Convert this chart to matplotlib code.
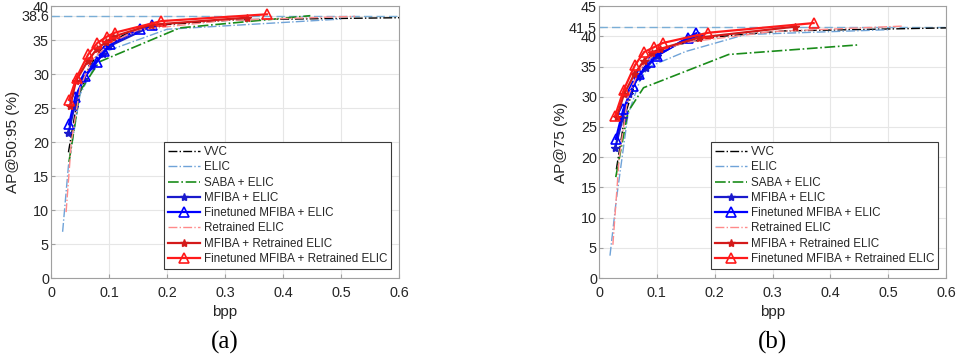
import matplotlib
matplotlib.use("Agg")
import matplotlib.pyplot as plt

plt.rcParams['font.family'] = ['Liberation Sans', 'DejaVu Sans']

# ---------------- data: panel (a) AP@50:95 ----------------
a_vvc_bpp = [0.030, 0.045, 0.065, 0.09, 0.13, 0.20, 0.32, 0.60, 0.75]
a_vvc_ap = [18.5, 26.0, 31.0, 34.0, 36.0, 37.3, 38.0, 38.3, 38.4]
a_elic_bpp = [0.020, 0.030, 0.050, 0.080, 0.10, 0.20, 0.50]
a_elic_ap = [6.8, 16.5, 27.0, 32.0, 33.5, 36.6, 38.1]
a_saba_bpp = [0.031, 0.050, 0.083, 0.222, 0.447]
a_saba_ap = [17.1, 27.5, 31.8, 36.8, 38.6]
a_mfiba_bpp = [0.030, 0.040, 0.055, 0.071, 0.090, 0.100, 0.174]
a_mfiba_ap = [21.3, 25.1, 29.3, 31.2, 33.0, 34.1, 37.1]
a_ftmfiba_bpp = [0.031, 0.042, 0.059, 0.079, 0.092, 0.102, 0.153, 0.174]
a_ftmfiba_ap = [22.6, 26.7, 29.7, 31.8, 33.4, 34.4, 36.7, 37.2]
a_relic_bpp = [0.026, 0.035, 0.050, 0.070, 0.100, 0.150, 0.300, 0.524]
a_relic_ap = [9.7, 20.0, 28.0, 32.0, 34.5, 36.5, 37.9, 38.5]
a_mfre_bpp = [0.033, 0.043, 0.063, 0.079, 0.095, 0.107, 0.172, 0.337]
a_mfre_ap = [25.3, 29.0, 31.9, 33.7, 34.75, 35.5, 37.25, 38.3]
a_ftmfre_bpp = [0.031, 0.044, 0.064, 0.080, 0.096, 0.110, 0.190, 0.372]
a_ftmfre_ap = [26.2, 29.5, 32.9, 34.6, 35.5, 36.1, 37.8, 38.8]
a_ref = 38.6

# ---------------- data: panel (b) AP@75 ----------------
b_vvc_bpp = [0.030, 0.045, 0.065, 0.09, 0.13, 0.20, 0.32, 0.60, 0.75]
b_vvc_ap = [18.0, 27.0, 33.0, 36.5, 38.5, 39.9, 40.9, 41.4, 41.5]
b_elic_bpp = [0.019, 0.030, 0.050, 0.070, 0.085, 0.150, 0.253, 0.500]
b_elic_ap = [3.7, 13.0, 27.0, 32.5, 34.9, 37.5, 40.3, 41.1]
b_saba_bpp = [0.029, 0.050, 0.077, 0.224, 0.450]
b_saba_ap = [16.7, 27.5, 31.5, 37.0, 38.6]
b_mfiba_bpp = [0.028, 0.041, 0.052, 0.068, 0.082, 0.100, 0.152, 0.172]
b_mfiba_ap = [21.5, 26.5, 30.4, 33.3, 34.8, 36.8, 39.6, 40.1]
b_ftmfiba_bpp = [0.029, 0.042, 0.059, 0.070, 0.088, 0.100, 0.154, 0.168]
b_ftmfiba_ap = [23.0, 27.9, 31.8, 33.7, 35.7, 36.8, 39.8, 40.5]
b_relic_bpp = [0.024, 0.035, 0.050, 0.070, 0.100, 0.150, 0.300, 0.526]
b_relic_ap = [5.5, 20.0, 30.0, 34.5, 37.5, 39.0, 40.8, 41.7]
b_mfre_bpp = [0.031, 0.043, 0.061, 0.077, 0.091, 0.105, 0.173, 0.338]
b_mfre_ap = [26.7, 30.4, 33.7, 35.9, 37.3, 37.9, 39.8, 41.6]
b_ftmfre_bpp = [0.028, 0.043, 0.062, 0.078, 0.095, 0.110, 0.189, 0.371]
b_ftmfre_ap = [26.9, 31.2, 35.2, 37.4, 38.2, 38.9, 40.6, 42.2]
b_ref = 41.5

labels = ["VVC", "ELIC", "SABA + ELIC", "MFIBA + ELIC", "Finetuned MFIBA + ELIC",
          "Retrained ELIC", "MFIBA + Retrained ELIC", "Finetuned MFIBA + Retrained ELIC"]

a_yticks = [0, 5, 10, 15, 20, 25, 30, 35, 38.6, 40]
a_yticklabels = ["0", "5", "10", "15", "20", "25", "30", "35", "38.6", "40"]
b_yticks = [0, 5, 10, 15, 20, 25, 30, 35, 40, 41.5, 45]
b_yticklabels = ["0", "5", "10", "15", "20", "25", "30", "35", "40", "41.5", "45"]
xticks = [0, 0.1, 0.2, 0.3, 0.4, 0.5, 0.6]
xticklabels = ["0", "0.1", "0.2", "0.3", "0.4", "0.5", "0.6"]

styles = [
    dict(color="black", ls="-.", lw=1.0),
    dict(color="#6fa3d8", ls="-.", lw=1.0),
    dict(color="#1a8c1a", ls="-.", lw=1.2),
    dict(color="#1a1acc", ls="-", lw=1.6, marker="*", ms=6),
    dict(color="#0000ff", ls="-", lw=1.6, marker="^", ms=7, mfc="none", mew=1.2),
    dict(color="#ff8a8a", ls="-.", lw=1.0),
    dict(color="#d41a1a", ls="-", lw=1.6, marker="*", ms=6),
    dict(color="#ff1a1a", ls="-", lw=1.6, marker="^", ms=7, mfc="none", mew=1.2),
]

fig = plt.figure(figsize=(9.59, 3.62), dpi=100)
ax1 = fig.add_axes([0.0532, 0.232, 0.363, 0.751])
ax2 = fig.add_axes([0.6246, 0.232, 0.362, 0.751])

panels = [
    (ax1, [(a_vvc_bpp, a_vvc_ap), (a_elic_bpp, a_elic_ap), (a_saba_bpp, a_saba_ap),
           (a_mfiba_bpp, a_mfiba_ap), (a_ftmfiba_bpp, a_ftmfiba_ap), (a_relic_bpp, a_relic_ap),
           (a_mfre_bpp, a_mfre_ap), (a_ftmfre_bpp, a_ftmfre_ap)],
     a_ref, 40, a_yticks, a_yticklabels, "AP@50:95 (%)", "(a)"),
    (ax2, [(b_vvc_bpp, b_vvc_ap), (b_elic_bpp, b_elic_ap), (b_saba_bpp, b_saba_ap),
           (b_mfiba_bpp, b_mfiba_ap), (b_ftmfiba_bpp, b_ftmfiba_ap), (b_relic_bpp, b_relic_ap),
           (b_mfre_bpp, b_mfre_ap), (b_ftmfre_bpp, b_ftmfre_ap)],
     b_ref, 45, b_yticks, b_yticklabels, "AP@75 (%)", "(b)"),
]

for ax, series, ref, ymax, yt, ytl, ylab, tag in panels:
    ax.axhline(ref, color="#7aaed6", ls=(0, (6, 3)), lw=1.0, zorder=1)
    for (xs, ys), st, lab in zip(series, styles, labels):
        ax.plot(xs, ys, label=lab, zorder=3, **st)
    ax.set_xlim(0, 0.6)
    ax.set_ylim(0, ymax)
    ax.set_xticks(xticks)
    ax.set_xticklabels(xticklabels)
    ax.set_yticks(yt)
    ax.set_yticklabels(ytl)
    ax.grid(True, color="#e6e6e6", lw=0.8)
    ax.set_axisbelow(True)
    for s in ax.spines.values():
        s.set_color("#a0a0a0")
        s.set_linewidth(0.8)
    ax.tick_params(direction="in", length=3, colors="#a0a0a0", labelcolor="#262626",
                   labelsize=10.4, top=False, right=False)
    ax.tick_params(axis="y", pad=1.5)
    ax.tick_params(axis="x", pad=6)
    ax.set_xlabel("bpp", fontsize=11, color="#262626", labelpad=3)
    ax.set_ylabel(ylab, fontsize=11, color="#262626", labelpad=1)
    leg = ax.legend(loc="lower right", bbox_to_anchor=(0.977, 0.033), fontsize=8.4,
                    frameon=True, fancybox=False, edgecolor="#3a3a3a", framealpha=1,
                    handlelength=2.7, handletextpad=0.35, labelspacing=0.28,
                    borderpad=0.35, borderaxespad=0.0)
    leg.get_frame().set_linewidth(0.8)
    for t in leg.get_texts():
        t.set_color("#262626")
    bb = ax.get_position()
    fig.text(bb.x0 + bb.width / 2, 0.055, tag, ha="center", va="center",
             fontsize=18, family=["Liberation Serif", "DejaVu Serif"])

fig.savefig("out.png", dpi=100)
